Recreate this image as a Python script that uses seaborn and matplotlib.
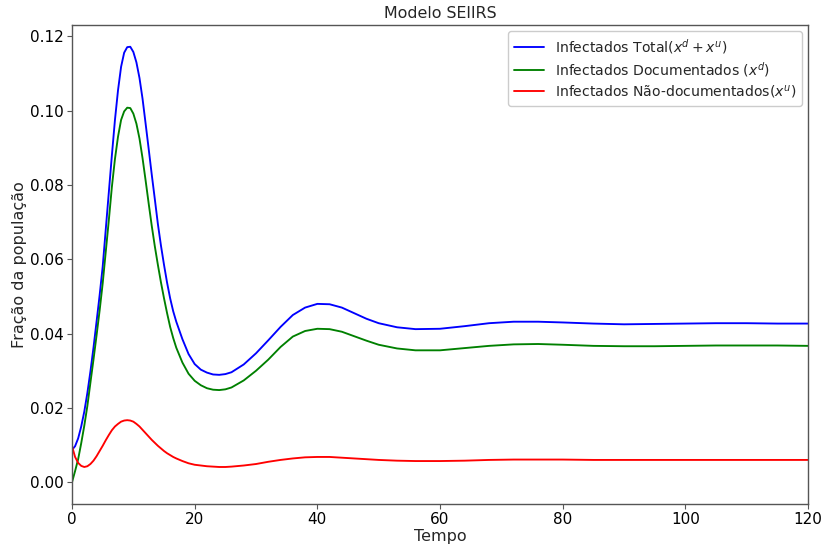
import numpy as np
import pandas as pd
import matplotlib
matplotlib.use("Agg")
import matplotlib.pyplot as plt
import seaborn as sns

# Time (days) and fraction of the population infected
tempo = [0, 0.5, 1, 1.5, 2, 2.5, 3, 3.5, 4, 4.5, 5, 5.5, 6, 6.5, 7, 7.5, 8, 8.5,
         9, 9.5, 10, 10.5, 11, 11.5, 12, 12.5, 13, 13.5, 14, 14.5, 15, 15.5, 16,
         16.5, 17, 18, 19, 20, 21, 22, 23, 24, 25, 26, 28, 30, 32, 34, 36, 38, 40,
         42, 44, 46, 48, 50, 53, 56, 60, 64, 68, 72, 76, 80, 85, 90, 95, 100, 105,
         110, 115, 120]

infectados_total = [0.0087, 0.0097, 0.0118, 0.0150, 0.0190, 0.0240, 0.0298, 0.0362,
                    0.0432, 0.0503, 0.0580, 0.0680, 0.0780, 0.0880, 0.0975, 0.1055,
                    0.1118, 0.1156, 0.1171, 0.1172, 0.1158, 0.1130, 0.1088, 0.1032,
                    0.0965, 0.0897, 0.0828, 0.0762, 0.0695, 0.0637, 0.0585, 0.0537,
                    0.0495, 0.0460, 0.0432, 0.0385, 0.0345, 0.0318, 0.0303, 0.0295,
                    0.0290, 0.0289, 0.0291, 0.0296, 0.0317, 0.0347, 0.0382, 0.0418,
                    0.0450, 0.0470, 0.0480, 0.0479, 0.0470, 0.0455, 0.0440, 0.0428,
                    0.0417, 0.0412, 0.0413, 0.0420, 0.0428, 0.0432, 0.0432, 0.0430,
                    0.0427, 0.0425, 0.0426, 0.0427, 0.0428, 0.0428, 0.0427, 0.0427]

infectados_documentados = [0.0000, 0.0030, 0.0062, 0.0105, 0.0152, 0.0205, 0.0268,
                           0.0330, 0.0395, 0.0462, 0.0535, 0.0620, 0.0705, 0.0795,
                           0.0870, 0.0930, 0.0975, 0.0998, 0.1008, 0.1007, 0.0992,
                           0.0965, 0.0925, 0.0872, 0.0812, 0.0750, 0.0690, 0.0635,
                           0.0585, 0.0538, 0.0495, 0.0455, 0.0418, 0.0388, 0.0362,
                           0.0322, 0.0292, 0.0273, 0.0261, 0.0253, 0.0249, 0.0248,
                           0.0250, 0.0255, 0.0274, 0.0300, 0.0330, 0.0364, 0.0392,
                           0.0407, 0.0413, 0.0412, 0.0405, 0.0393, 0.0381, 0.0370,
                           0.0360, 0.0355, 0.0355, 0.0361, 0.0367, 0.0371, 0.0372,
                           0.0370, 0.0367, 0.0366, 0.0366, 0.0367, 0.0368, 0.0368,
                           0.0368, 0.0367]

infectados_nao_documentados = [0.0097, 0.0068, 0.0052, 0.0044, 0.0041, 0.0043, 0.0049,
                               0.0058, 0.0070, 0.0084, 0.0098, 0.0113, 0.0127, 0.0140,
                               0.0150, 0.0157, 0.0163, 0.0166, 0.0167, 0.0166, 0.0163,
                               0.0157, 0.0150, 0.0141, 0.0132, 0.0123, 0.0114, 0.0106,
                               0.0098, 0.0091, 0.0084, 0.0078, 0.0073, 0.0068, 0.0064,
                               0.0057, 0.0051, 0.0047, 0.0045, 0.0043, 0.0042, 0.0041,
                               0.0041, 0.0042, 0.0045, 0.0049, 0.0055, 0.0060, 0.0064,
                               0.0067, 0.0068, 0.0068, 0.0066, 0.0064, 0.0062, 0.0060,
                               0.0058, 0.0057, 0.0057, 0.0058, 0.0060, 0.0061, 0.0061,
                               0.0061, 0.0060, 0.0060, 0.0060, 0.0060, 0.0060, 0.0060,
                               0.0060, 0.0060]

rotulos = [r"Infectados Total($x^d + x^u$)",
           r"Infectados Documentados ($x^d$)",
           r"Infectados Não-documentados($x^u$)"]
cores = ["blue", "green", "red"]

sns.set_style("ticks")
plt.rcParams["font.family"] = ["DejaVu Sans"]
plt.rcParams["axes.edgecolor"] = "#555555"
plt.rcParams["xtick.color"] = "#555555"
plt.rcParams["ytick.color"] = "#555555"
plt.rcParams["xtick.labelcolor"] = "black"
plt.rcParams["ytick.labelcolor"] = "black"

fig = plt.figure(figsize=(8.24, 5.48), dpi=100)
ax = fig.add_axes([0.0874, 0.0803, 0.8932, 0.8741])

series = [infectados_total, infectados_documentados, infectados_nao_documentados]
for valores, rotulo, cor in zip(series, rotulos, cores):
    df = pd.DataFrame({"Tempo": tempo, "Fração": valores})
    sns.lineplot(data=df, x="Tempo", y="Fração", color=cor, label=rotulo,
                 linewidth=1.35, ax=ax)

ax.set_xlim(0, 120)
ax.set_xticks([0, 20, 40, 60, 80, 100, 120])
ax.set_yticks([0.00, 0.02, 0.04, 0.06, 0.08, 0.10, 0.12])
ax.yaxis.set_major_formatter(matplotlib.ticker.FormatStrFormatter("%.2f"))
ax.tick_params(labelsize=11, length=3.5, width=0.8, pad=2.5)
for s in ax.spines.values():
    s.set_visible(True)
    s.set_linewidth(1.0)

ax.set_title("Modelo SEIIRS", fontsize=11.4, pad=5)
ax.set_xlabel("Tempo", fontsize=11.5, labelpad=1)
ax.set_ylabel("Fração da população", fontsize=11.5, labelpad=2)
ax.legend(loc="upper right", fontsize=10.1, frameon=True, fancybox=True,
          edgecolor="#cccccc", framealpha=1.0, handlelength=2.1,
          labelspacing=0.3, borderaxespad=0.45)

fig.savefig("out.png", dpi=100)
